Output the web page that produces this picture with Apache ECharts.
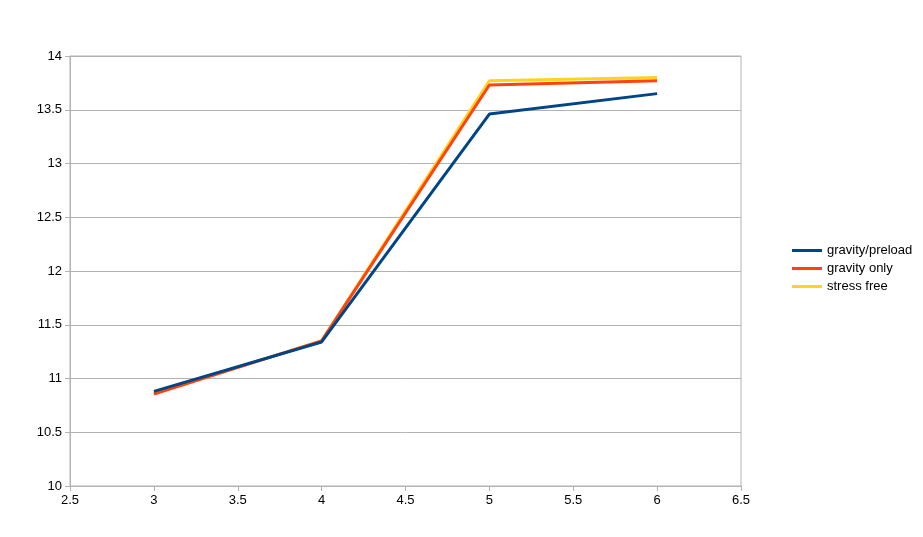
<!DOCTYPE html>
<html><head><meta charset="utf-8">
<script src="https://cdn.jsdelivr.net/npm/echarts@6/dist/echarts.min.js"></script>
<style>html,body{margin:0;padding:0;background:#fff}#c{width:923px;height:537px}</style>
</head><body><div id="c"></div>
<script>
const xValues = [3, 4, 5, 6];
const seriesNames = ['gravity/preload', 'gravity only', 'stress free'];
const gravityPreload = [10.88, 11.34, 13.46, 13.65];
const gravityOnly = [10.855, 11.35, 13.73, 13.77];
const stressFree = [10.86, 11.35, 13.77, 13.80];
const colors = ['#004586', '#ff420e', '#ffd320'];

const chart = echarts.init(document.getElementById('c'));
const font = 'Liberation Sans';
const mk = (name, vals, color, z) => ({
  name, type: 'line', data: xValues.map((x, i) => [x, vals[i]]),
  showSymbol: false, symbol: 'none', z,
  lineStyle: { color, width: 3 }, itemStyle: { color }
});
chart.setOption({
  animation: false,
  grid: { left: 70, right: 182, top: 56, bottom: 51, show: true, borderColor: '#b3b3b3', borderWidth: 1 },
  legend: {
    orient: 'vertical', left: 787, top: 239, itemWidth: 30, itemHeight: 3, itemGap: 5,
    icon: 'rect',
    textStyle: { fontFamily: font, fontSize: 13, color: '#000' },
    data: seriesNames
  },
  xAxis: {
    type: 'value', min: 2.5, max: 6.5, interval: 0.5,
    axisLine: { lineStyle: { color: '#b3b3b3' } },
    axisTick: { show: true, length: 5, lineStyle: { color: '#b3b3b3' } },
    axisLabel: { fontFamily: font, fontSize: 13, color: '#000', margin: 8 },
    splitLine: { show: false }
  },
  yAxis: {
    type: 'value', min: 10, max: 14, interval: 0.5,
    axisLine: { show: true, lineStyle: { color: '#b3b3b3' } },
    axisTick: { show: true, length: 5, lineStyle: { color: '#b3b3b3' } },
    axisLabel: { fontFamily: font, fontSize: 13, color: '#000', margin: 8 },
    splitLine: { lineStyle: { color: '#b3b3b3' } }
  },
  series: [
    mk(seriesNames[2], stressFree, colors[2], 1),
    mk(seriesNames[1], gravityOnly, colors[1], 2),
    mk(seriesNames[0], gravityPreload, colors[0], 3)
  ]
});
</script></body></html>
